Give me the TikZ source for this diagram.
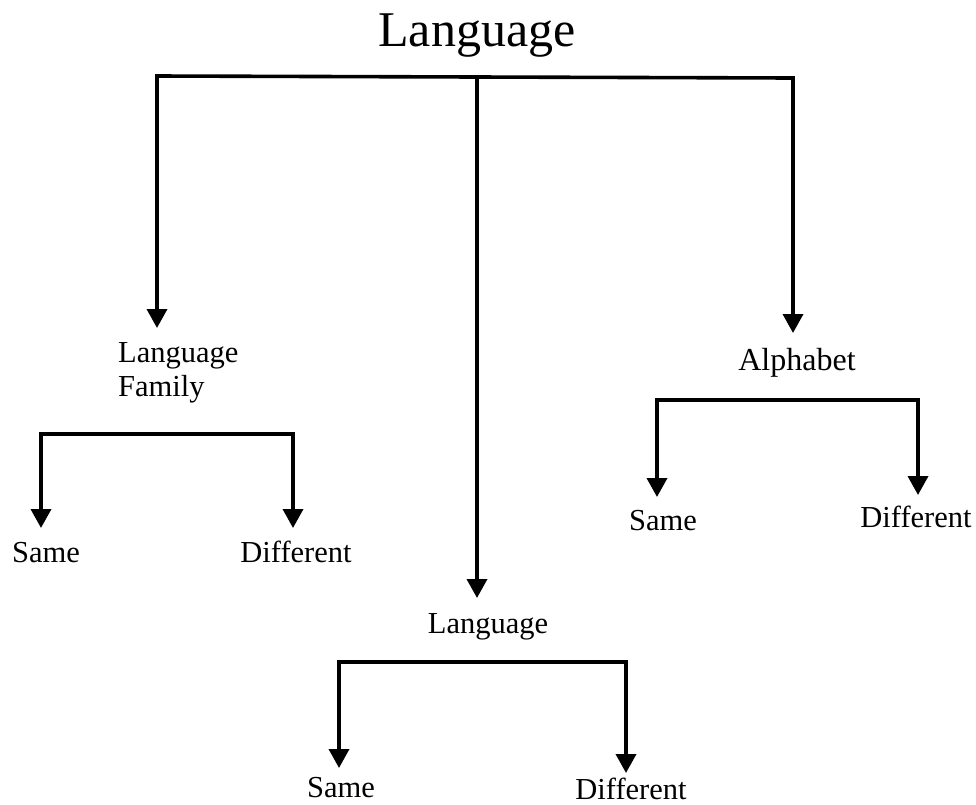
\documentclass[tikz,border=0pt]{standalone}
\usepackage{fontspec}
\setmainfont{Liberation Serif}
\usetikzlibrary{arrows.meta}
\begin{document}
\begin{tikzpicture}[x=1pt,y=-1pt,
  line/.style={line width=3.6pt,line cap=rect},
  arr/.style={line width=3.6pt,-{Triangle[width=20pt,length=19pt]}},
  lbl/.style={inner sep=0pt,anchor=base,font=\fontsize{30.5}{34}\selectfont},
  big/.style={inner sep=0pt,anchor=base,font=\fontsize{50}{60}\selectfont}]
\useasboundingbox (0,0) rectangle (976,804);
% texts
\node[big] (title) at (477,46) {Language};
\node[lbl,anchor=base west,align=left] (fam) at (118,396) {Language\\Family};
\node[lbl,font=\fontsize{32}{38}\selectfont] (alpha) at (797,370) {Alphabet};
\node[lbl] (lang) at (488,633) {Language};
\node[lbl] (s1) at (46,562) {Same};
\node[lbl] (d1) at (296,562) {Different};
\node[lbl] (s2) at (663,530) {Same};
\node[lbl] (d2) at (916,527) {Different};
\node[lbl] (s3) at (341,797) {Same};
\node[lbl] (d3) at (631,799) {Different};
% bar coordinates
\coordinate (tl) at (157,76);
\coordinate (tm) at (477,77);
\coordinate (tr) at (793,78);
\coordinate (tlE) at (157,328);
\coordinate (tmE) at (477,598);
\coordinate (trE) at (793,333);
\coordinate (fl) at (41,434);
\coordinate (fr) at (293,434);
\coordinate (flE) at (41,528);
\coordinate (frE) at (293,528);
\coordinate (al) at (657,400);
\coordinate (ar) at (918,400);
\coordinate (alE) at (657,497);
\coordinate (arE) at (918,495);
\coordinate (ll) at (339,662);
\coordinate (lr) at (626,662);
\coordinate (llE) at (339,768);
\coordinate (lrE) at (626,773);
% connectors
\draw[line] (tl) -- (tm) -- (tr);
\draw[arr] (tl) -- (tlE);
\draw[arr] (tm) -- (tmE);
\draw[arr] (tr) -- (trE);
\draw[line] (fl) -- (fr);
\draw[arr] (fl) -- (flE);
\draw[arr] (fr) -- (frE);
\draw[line] (al) -- (ar);
\draw[arr] (al) -- (alE);
\draw[arr] (ar) -- (arE);
\draw[line] (ll) -- (lr);
\draw[arr] (ll) -- (llE);
\draw[arr] (lr) -- (lrE);
\end{tikzpicture}
\end{document}
